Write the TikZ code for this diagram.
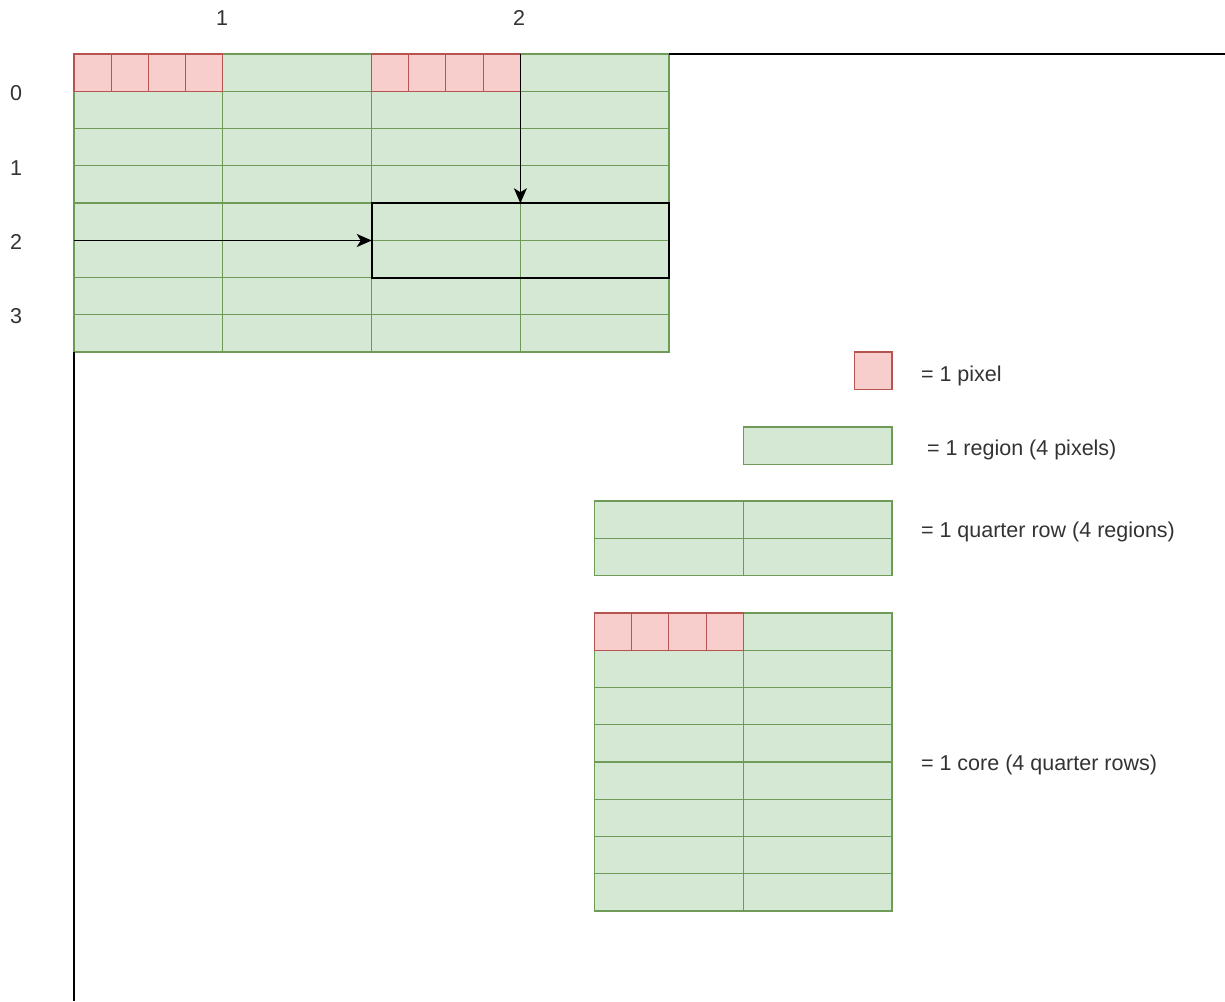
\documentclass[tikz,border=0pt]{standalone}
\usepackage{fontspec}
\setmainfont{Liberation Sans}
\usetikzlibrary{arrows.meta}
\definecolor{gfill}{HTML}{D5E8D4}
\definecolor{gline}{HTML}{6F9A58}
\definecolor{rfill}{HTML}{F8CECC}
\definecolor{rline}{HTML}{B85450}
\definecolor{txt}{HTML}{333333}
\tikzset{
  region/.style={fill=gfill, draw=gline, line width=1.1pt, inner sep=0pt, outer sep=0pt,
    anchor=north west, minimum width=148.75pt, minimum height=37.25pt},
  pix/.style={fill=rfill, draw=rline, line width=1.1pt, inner sep=0pt, outer sep=0pt,
    anchor=north west, minimum width=37.19pt, minimum height=37.25pt},
  lbl/.style={font=\fontsize{21.5}{26}\selectfont, text=txt, inner sep=0pt, outer sep=0pt},
  selbox/.style={draw=black, line width=1.9pt, fill=none, inner sep=0pt, outer sep=0pt,
    minimum width=297.25pt, minimum height=74.5pt},
  arr/.style={draw=black, line width=1.7pt, -{Stealth[length=15pt,width=13pt,inset=4pt]}},
  axisline/.style={draw=black, line width=1.4pt},
}
\begin{document}
\begin{tikzpicture}[x=1pt,y=-1pt]
\useasboundingbox (0,0) rectangle (1225,1001);
\fill[white] (0,0) rectangle (1225,1001);

% main grid (1 core = 4 cols of regions x 8 rows)
\foreach \r in {0,...,7}
  \foreach \c in {0,...,3}
    \node[region] (m\r\c) at ({74+148.75*\c},{54+37.25*\r}) {};
% pixels in first row
\foreach \p in {0,...,3} {
  \node[pix] (pa\p) at ({74+37.19*\p},54) {};
  \node[pix] (pb\p) at ({371.5+37.19*\p},54) {};
}

% axis lines
\coordinate (tr) at (1225,54);
\coordinate (bl) at (74,1001);
\draw[axisline] (m03.north east) -- (tr);
\draw[axisline] (m70.south west) -- (bl);

% selected block
\node[selbox] (sel) at (520.375,240.5) {};
\coordinate (hs) at (74,240.5);
\coordinate (vs) at (520.375,54);
\draw[arr] (hs) -- (sel.west);
\draw[arr] (vs) -- (sel.north);

% axis labels
\node[lbl, anchor=base] (cx1) at (222,25) {1};
\node[lbl, anchor=base] (cx2) at (519,25) {2};
\node[lbl, anchor=base] (ry0) at (16,100) {0};
\node[lbl, anchor=base] (ry1) at (16,175) {1};
\node[lbl, anchor=base] (ry2) at (16,249) {2};
\node[lbl, anchor=base] (ry3) at (16,323) {3};

% legend: pixel
\node[pix] (lp) at (854.8,352) {};
\node[lbl, anchor=base west] (tp) at (921,381) {= 1 pixel};
% legend: region
\node[region] (lr) at (743.25,427) {};
\node[lbl, anchor=base west] (trg) at (927,455) {= 1 region (4 pixels)};
% legend: quarter row
\foreach \r in {0,1}
  \foreach \c in {0,1}
    \node[region] (q\r\c) at ({594.5+148.75*\c},{501+37.5*\r}) {};
\node[lbl, anchor=base west] (tq) at (921,537) {= 1 quarter row (4 regions)};
% legend: core
\foreach \r in {0,...,7}
  \foreach \c in {0,1}
    \node[region] (k\r\c) at ({594.5+148.75*\c},{613+37.25*\r}) {};
\foreach \p in {0,...,3}
  \node[pix] (kp\p) at ({594.5+37.19*\p},613) {};
\node[lbl, anchor=base west] (tk) at (921,770) {= 1 core (4 quarter rows)};
\end{tikzpicture}
\end{document}
